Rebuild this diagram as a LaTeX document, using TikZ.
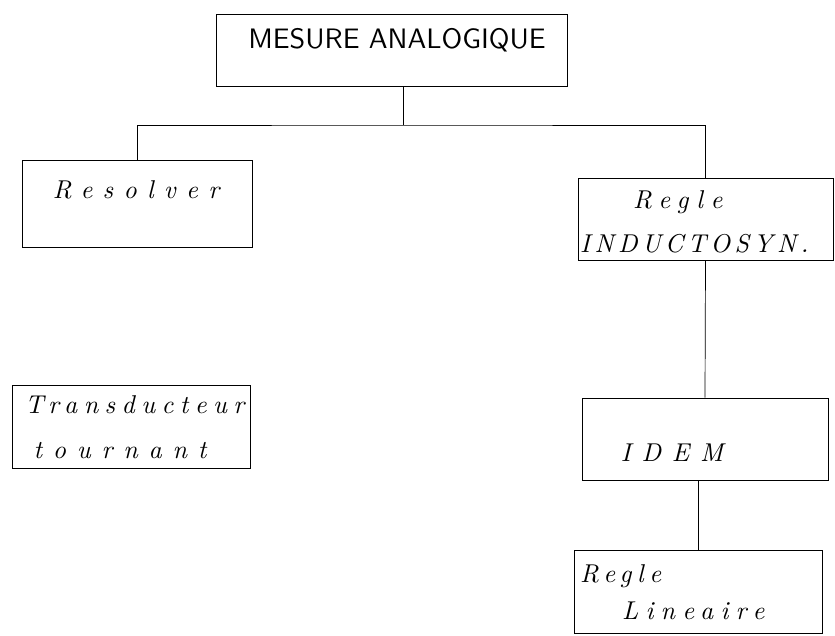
\documentclass[tikz,border=0pt]{standalone}
\usepackage{fontspec}
\setmainfont{lmroman10}[Extension=.otf, UprightFont=*-regular, ItalicFont=*-italic, BoldFont=*-bold]
\setsansfont{lmsans10}[Extension=.otf, UprightFont=*-regular, BoldFont=*-bold]
\usetikzlibrary{positioning}

\newcommand{\spaced}[2]{{\addfontfeatures{LetterSpace=#1}#2}}

\tikzstyle{box} = [rectangle, draw=black, line width=0.6pt, inner sep=0pt]
\tikzstyle{title} = [font=\sffamily\fontsize{24}{28}\selectfont]
\tikzstyle{hand} = [font=\itshape\fontsize{22}{38}\selectfont\addfontfeatures{LetterSpace=30}, align=left, inner sep=0pt]
\tikzstyle{link} = [line width=0.6pt]

\begin{document}
\begin{tikzpicture}[x=0.03cm, y=-0.03cm]
  \useasboundingbox (0,0) rectangle (835,635);
  % boxes
  \node (ana) [box, minimum width=10.53cm, minimum height=2.16cm] at (391.5,50) {};
  \node (res) [box, minimum width=6.9cm, minimum height=2.61cm] at (137,203.5) {};
  \node (ind) [box, minimum width=7.65cm, minimum height=2.46cm] at (705.5,219) {};
  \node (trans) [box, minimum width=7.14cm, minimum height=2.49cm] at (131,426.5) {};
  \node (idem) [box, minimum width=7.38cm, minimum height=2.46cm] at (705,439) {};
  \node (lin) [box, minimum width=7.44cm, minimum height=2.49cm] at (698,591.5) {};
  % texts
  \node (anatxt) [title] at (397,40) {MESURE ANALOGIQUE};
  \node (restxt) [hand] at (136,190) {\spaced{40}{Resolver}};
  \node (indtxt) [hand, anchor=west] at (580,222) {\hspace*{1.59cm}Regle\\\spaced{17}{INDUCTOSYN.}};
  \node (transtxt) [hand, anchor=west] at (25,427) {\spaced{25}{Transducteur}\\\hspace*{0.25cm}\spaced{42}{tournant}};
  \node (idemtxt) [hand] at (672,453) {\spaced{42}{IDEM}};
  \node (lintxt) [hand, anchor=west, font=\itshape\fontsize{22}{32}\selectfont] at (580,592) {\spaced{22}{Regle}\\\hspace*{1.26cm}\spaced{28}{Lineaire}};
  % connections
  \coordinate (split) at (403,125);
  \draw [link] (split |- ana.south) -- (split);
  \draw [link] (res.north) |- (split) -| (ind.north);
  \draw [link] (ind.south) -- (idem.north);
  \draw [link] (lin.north |- idem.south) -- (lin.north);
\end{tikzpicture}
\end{document}
